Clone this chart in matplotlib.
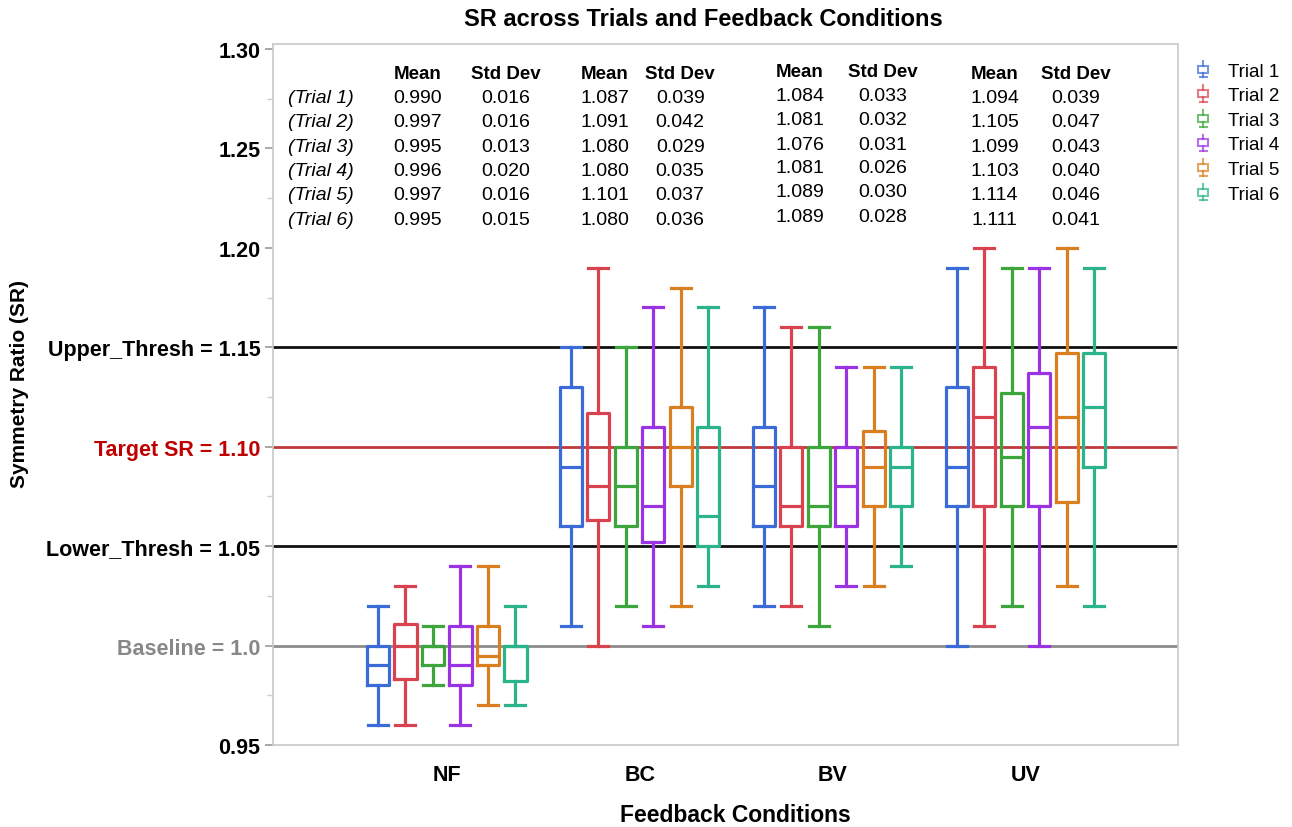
import matplotlib
matplotlib.use("Agg")
import matplotlib.pyplot as plt
from matplotlib.legend_handler import HandlerBase
from matplotlib.patches import Rectangle
from matplotlib.lines import Line2D

plt.rcParams['font.family'] = ['Liberation Sans', 'DejaVu Sans']

# ---------------- data ----------------
conditions = ["NF", "BC", "BV", "UV"]
trials = ["Trial 1", "Trial 2", "Trial 3", "Trial 4", "Trial 5", "Trial 6"]
colors = ["#3a6bd6", "#d9434f", "#3ca53c", "#9a34e2", "#d97f1f", "#2bb38b"]

# rows = conditions, cols = trials
whisker_low = [
    [0.96, 0.96, 0.98, 0.96, 0.97, 0.97],
    [1.01, 1.00, 1.02, 1.01, 1.02, 1.03],
    [1.02, 1.02, 1.01, 1.03, 1.03, 1.04],
    [1.00, 1.01, 1.02, 1.00, 1.03, 1.02],
]
q1 = [
    [0.98, 0.983, 0.99, 0.98, 0.99, 0.982],
    [1.06, 1.063, 1.06, 1.052, 1.08, 1.05],
    [1.06, 1.06, 1.06, 1.06, 1.07, 1.07],
    [1.07, 1.07, 1.07, 1.07, 1.072, 1.09],
]
median = [
    [0.99, 1.00, 1.00, 0.99, 0.995, 1.00],
    [1.09, 1.08, 1.08, 1.07, 1.10, 1.065],
    [1.08, 1.07, 1.07, 1.08, 1.09, 1.09],
    [1.09, 1.115, 1.095, 1.11, 1.115, 1.12],
]
q3 = [
    [1.00, 1.011, 1.00, 1.01, 1.01, 1.00],
    [1.13, 1.117, 1.10, 1.11, 1.12, 1.11],
    [1.11, 1.10, 1.10, 1.10, 1.108, 1.10],
    [1.13, 1.14, 1.127, 1.137, 1.147, 1.147],
]
whisker_high = [
    [1.02, 1.03, 1.01, 1.04, 1.04, 1.02],
    [1.15, 1.19, 1.15, 1.17, 1.18, 1.17],
    [1.17, 1.16, 1.16, 1.14, 1.14, 1.14],
    [1.19, 1.20, 1.19, 1.19, 1.20, 1.19],
]

means = [
    ["0.990", "0.997", "0.995", "0.996", "0.997", "0.995"],
    ["1.087", "1.091", "1.080", "1.080", "1.101", "1.080"],
    ["1.084", "1.081", "1.076", "1.081", "1.089", "1.089"],
    ["1.094", "1.105", "1.099", "1.103", "1.114", "1.111"],
]
stds = [
    ["0.016", "0.016", "0.013", "0.020", "0.016", "0.015"],
    ["0.039", "0.042", "0.029", "0.035", "0.037", "0.036"],
    ["0.033", "0.032", "0.031", "0.026", "0.030", "0.028"],
    ["0.039", "0.047", "0.043", "0.040", "0.046", "0.041"],
]

ref_values = [1.00, 1.05, 1.10, 1.15]
ref_colors = ["#8c8c8c", "#111111", "#c0393b", "#111111"]
ytick_values = [0.95, 1.00, 1.05, 1.10, 1.15, 1.20, 1.25, 1.30]
ytick_labels = ["0.95", "Baseline = 1.0", "Lower_Thresh = 1.05", "Target SR = 1.10",
                "Upper_Thresh = 1.15", "1.20", "1.25", "1.30"]
ytick_colors = ["black", "#888888", "black", "#c00000", "black", "black", "black", "black"]

# ---------------- figure ----------------
fig = plt.figure(figsize=(12.92, 8.28), dpi=100)
ax = fig.add_axes([273 / 1292, 1 - 746 / 828, (1178 - 273) / 1292, (746 - 45) / 828])

for v, c in zip(ref_values, ref_colors):
    ax.axhline(v, color=c, lw=2.0, zorder=1)

step = 0.1425
bw = 0.115
for ci in range(len(conditions)):
    for ti in range(len(trials)):
        st = dict(whislo=whisker_low[ci][ti], q1=q1[ci][ti], med=median[ci][ti],
                  q3=q3[ci][ti], whishi=whisker_high[ci][ti], label="")
        col = colors[ti]
        ax.bxp([st], positions=[ci + (ti - 2.5) * step], widths=[bw],
               capwidths=[bw * 0.9], showfliers=False, manage_ticks=False,
               boxprops=dict(color=col, lw=2.3),
               medianprops=dict(color=col, lw=2.3),
               whiskerprops=dict(color=col, lw=2.3),
               capprops=dict(color=col, lw=2.3), zorder=3)

ax.set_xlim(-0.9, 3.79)
ax.set_ylim(0.95, 1.3025)

ax.set_xticks(range(len(conditions)))
ax.set_xticklabels(conditions, fontsize=15.5, fontweight='bold')
ax.tick_params(axis='x', length=0, pad=14)

ax.set_yticks(ytick_values)
ax.set_yticklabels(ytick_labels, fontsize=15.5, fontweight='bold')
for lab, c in zip(ax.get_yticklabels(), ytick_colors):
    lab.set_color(c)
ax.set_yticks([0.975, 1.025, 1.075, 1.125, 1.175, 1.225, 1.275], minor=True)
ax.tick_params(axis='y', which='major', length=6, color='#999999', width=1.2, pad=3)
ax.tick_params(axis='y', which='minor', length=4, color='#cccccc', width=1)

for sp in ax.spines.values():
    sp.set_color('#c8c8c8')
    sp.set_linewidth(1.2)

fig.text(735 / 1292, 1 - 816 / 828, "Feedback Conditions", fontsize=16.5, fontweight='bold',
         ha='center', va='center')
fig.text(20 / 1292, 1 - 384 / 828, "Symmetry Ratio (SR)", fontsize=15, fontweight='bold',
         ha='center', va='center', rotation=90)
fig.text(703 / 1292, 1 - 20 / 828, "SR across Trials and Feedback Conditions",
         fontsize=17, fontweight='bold', ha='center', va='center')

# ---------------- statistics table ----------------
col_pos = [(-0.15, 0.305), (0.82, 1.21), (1.83, 2.26), (2.84, 3.26)]
header_y = [1.2875, 1.2875, 1.2885, 1.2875]
row_y = [1.2755, 1.2635, 1.251, 1.239, 1.227, 1.2145]
for ci in range(len(conditions)):
    xm, xs = col_pos[ci]
    ax.text(xm, header_y[ci], "Mean", ha='center', va='center', fontsize=13.5, fontweight='bold')
    ax.text(xs, header_y[ci], "Std Dev", ha='center', va='center', fontsize=13.5, fontweight='bold')
    dy = 0.0012 if ci == 2 else 0.0
    for ti in range(len(trials)):
        ax.text(xm, row_y[ti] + dy, means[ci][ti], ha='center', va='center', fontsize=14)
        ax.text(xs, row_y[ti] + dy, stds[ci][ti], ha='center', va='center', fontsize=14)
for ti in range(len(trials)):
    ax.text(-0.82, row_y[ti], f"({trials[ti]})", ha='left', va='center', fontsize=14, style='italic')


# ---------------- legend ----------------
class BoxHandler(HandlerBase):
    def create_artists(self, legend, orig_handle, xdescent, ydescent, width, height, fontsize, trans):
        col = orig_handle.get_color()
        cx = width / 2 - xdescent
        h = height * 1.25
        y0 = -ydescent + (height - h) / 2
        bw_ = width * 0.9
        bh = h * 0.42
        yb = y0 + (h - bh) / 2
        kw = dict(color=col, lw=1.5, alpha=0.7, transform=trans)
        rect = Rectangle((cx - bw_ / 2, yb), bw_, bh, fill=False,
                         edgecolor=col, lw=1.5, alpha=0.7, transform=trans)
        l1 = Line2D([cx, cx], [y0, yb], **kw)
        l2 = Line2D([cx, cx], [yb + bh, y0 + h], **kw)
        l3 = Line2D([cx - bw_ * 0.35, cx + bw_ * 0.35], [y0, y0], **kw)
        return [rect, l1, l2, l3]


handles = [Line2D([], [], color=c) for c in colors]
fig.legend(handles, trials, handler_map={Line2D: BoxHandler()},
           loc='upper left', bbox_to_anchor=(1190 / 1292, 1 - 56 / 828),
           frameon=False, fontsize=13.5, handlelength=0.6, handletextpad=1.05,
           labelspacing=0.4, borderaxespad=0)

fig.savefig("out.png", dpi=100)
